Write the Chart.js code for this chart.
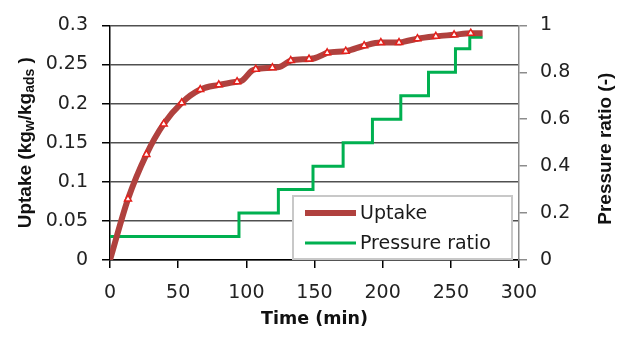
<!DOCTYPE html>
<html>
<head>
<meta charset="utf-8">
<script src="https://cdn.jsdelivr.net/npm/chart.js@4.4.1/dist/chart.umd.min.js"></script>
<style>
html, body { margin:0; padding:0; background:#fff; }
</style>
</head>
<body>
<canvas id="myChart" width="626" height="337"></canvas>
<script>
// uptake markers (measured points)
var markerTime   = [13.2, 26.7, 39.4, 52.6, 66.2, 79.8, 93.2, 106.9, 119.1, 132.6, 146.0, 159.3, 172.9, 186.4, 198.7, 212.0, 225.5, 239.0, 252.4, 264.6];
var markerUptake = [0.078, 0.135, 0.174, 0.201, 0.218, 0.224, 0.228, 0.244, 0.246, 0.255, 0.257, 0.265, 0.267, 0.274, 0.278, 0.278, 0.283, 0.286, 0.288, 0.290];

// uptake curve (incl. the kinks at each pressure step)
var curveTime   = [0, 13.2, 26.7, 39.4, 52.6, 66.2, 79.8, 93.2, 96.5, 104.0, 106.9, 119.1, 124.5, 130.5, 132.6, 146.0, 150.0, 157.0, 159.3, 172.9, 186.4, 198.7, 212.0, 215.0, 223.0, 225.5, 239.0, 252.4, 264.6, 273.3];
var curveUptake = [0, 0.078, 0.135, 0.174, 0.201, 0.218, 0.224, 0.228, 0.229, 0.242, 0.244, 0.246, 0.247, 0.253, 0.255, 0.257, 0.258, 0.263, 0.265, 0.267, 0.274, 0.278, 0.278, 0.279, 0.282, 0.283, 0.286, 0.288, 0.290, 0.290];

// pressure ratio steps (value starts at given time)
var pressureTime  = [0, 94.6, 123.5, 148.9, 171.0, 192.5, 213.3, 233.6, 253.4, 263.9, 273.3];
var pressureRatio = [0.1, 0.2, 0.3, 0.4, 0.5, 0.6, 0.7, 0.8, 0.9, 0.95, 0.95];

var xTickLabels     = ['0', '50', '100', '150', '200', '250', '300'];
var leftTickLabels  = ['0', '0.05', '0.1', '0.15', '0.2', '0.25', '0.3'];
var rightTickLabels = ['0', '0.2', '0.4', '0.6', '0.8', '1'];

function toPoints(xs, ys) {
  var pts = [];
  for (var i = 0; i < xs.length; i++) pts.push({x: xs[i], y: ys[i]});
  return pts;
}

var tickFont = {family: 'DejaVu Sans', size: 19};

var extras = {
  id: 'extras',
  afterDraw: function(chart) {
    var ctx = chart.ctx;
    var a = chart.chartArea;
    var cy = (a.top + a.bottom) / 2;
    ctx.save();
    ctx.fillStyle = '#111';

    // x title
    ctx.font = 'bold 17.5px "DejaVu Sans"';
    ctx.textAlign = 'center';
    ctx.textBaseline = 'alphabetic';
    ctx.fillText('Time (min)', (a.left + a.right) / 2, 324);

    // left title with subscripts
    var parts = [['Uptake (kg', 19, 0], ['w', 14, 3], ['/kg', 19, 0], ['ads', 14, 3], [' )', 19, 0]];
    var total = 0;
    parts.forEach(function(p) {
      ctx.font = 'bold ' + p[1] + 'px "Liberation Sans"';
      p.push(ctx.measureText(p[0]).width);
      total += p[3];
    });
    ctx.save();
    ctx.translate(31, cy);
    ctx.rotate(-Math.PI / 2);
    ctx.textAlign = 'left';
    var u = -total / 2;
    parts.forEach(function(p) {
      ctx.font = 'bold ' + p[1] + 'px "Liberation Sans"';
      ctx.fillText(p[0], u, p[2]);
      u += p[3];
    });
    ctx.restore();

    // right title
    ctx.save();
    ctx.translate(611, cy + 6);
    ctx.rotate(-Math.PI / 2);
    ctx.font = 'bold 19px "Liberation Sans"';
    ctx.textAlign = 'center';
    ctx.fillText('Pressure ratio (-)', 0, 0);
    ctx.restore();

    // legend inside plot
    var lx = 293, ly = 196, lw = 219, lh = 63;
    ctx.fillStyle = '#fff';
    ctx.fillRect(lx, ly, lw, lh);
    ctx.strokeStyle = '#c8c8c8';
    ctx.lineWidth = 2;
    ctx.strokeRect(lx, ly, lw, lh);
    var items = [chart.data.datasets[0], chart.data.datasets[2]];
    var rowsY = [213, 243];
    ctx.font = '19px "DejaVu Sans"';
    ctx.textAlign = 'left';
    ctx.textBaseline = 'middle';
    items.forEach(function(ds, i) {
      ctx.strokeStyle = ds.borderColor;
      ctx.lineWidth = ds.borderWidth;
      ctx.beginPath();
      ctx.moveTo(305, rowsY[i]);
      ctx.lineTo(356, rowsY[i]);
      ctx.stroke();
      ctx.fillStyle = '#1a1a1a';
      ctx.fillText(ds.label, 360, rowsY[i] + 1);
    });
    ctx.restore();
  }
};

var ctx = document.getElementById('myChart');
var myChart = new Chart(ctx, {
  type: 'line',
  data: {
    datasets: [{
      label: 'Uptake',
      data: toPoints(curveTime, curveUptake),
      borderColor: '#b0413e',
      borderWidth: 6,
      pointRadius: 0,
      cubicInterpolationMode: 'monotone',
      yAxisID: 'y',
      order: 2
    }, {
      label: 'Uptake points',
      data: toPoints(markerTime, markerUptake),
      showLine: false,
      pointStyle: 'triangle',
      pointRadius: 4,
      borderColor: '#e4211c',
      pointBackgroundColor: '#fff5f5',
      pointBorderWidth: 1.5,
      yAxisID: 'y',
      order: 1
    }, {
      label: 'Pressure ratio',
      data: toPoints(pressureTime, pressureRatio),
      borderColor: '#00b050',
      borderWidth: 3,
      pointRadius: 0,
      stepped: 'before',
      yAxisID: 'y2',
      order: 3
    }]
  },
  options: {
    responsive: false,
    animation: false,
    layout: { padding: { top: 15 } },
    plugins: { legend: { display: false }, tooltip: { enabled: false } },
    scales: {
      x: {
        type: 'linear', position: 'bottom', min: 0, max: 300,
        ticks: { stepSize: 50, color: '#222', font: tickFont, padding: 14, maxRotation: 0,
          callback: function(v, i) { return xTickLabels[i]; } },
        grid: { drawOnChartArea: false, tickLength: 8, color: '#000', lineWidth: 1.5 },
        border: { color: '#000', width: 1.5 },
        afterFit: function(s) { s.height = 77; }
      },
      y: {
        position: 'left', min: 0, max: 0.3,
        ticks: { stepSize: 0.05, color: '#222', font: tickFont, padding: 14,
          callback: function(v, i) { return leftTickLabels[i]; } },
        grid: { color: '#505050', tickColor: '#000', lineWidth: 1.5, tickLength: 8 },
        border: { color: '#000', width: 1.5 },
        afterFit: function(s) { s.width = 110; }
      },
      y2: {
        position: 'right', min: 0, max: 1,
        ticks: { stepSize: 0.2, color: '#222', font: tickFont, padding: 13,
          callback: function(v, i) { return rightTickLabels[i]; } },
        grid: { drawOnChartArea: false, tickLength: 8, color: '#8c8c8c', lineWidth: 1.5 },
        border: { color: '#8c8c8c', width: 1.5 },
        afterFit: function(s) { s.width = 107; }
      }
    }
  },
  plugins: [extras]
});
</script>
</body>
</html>
